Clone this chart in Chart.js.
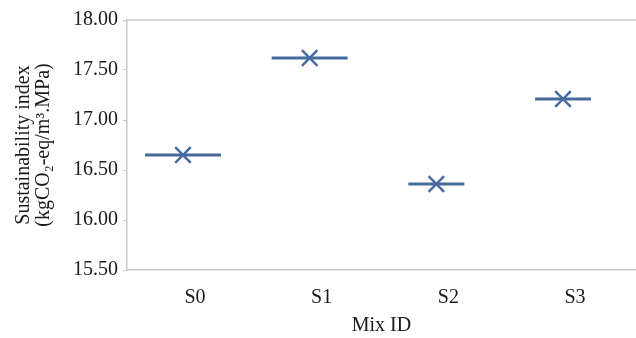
<!DOCTYPE html>
<html>
<head>
<meta charset="utf-8">
<script src="https://cdn.jsdelivr.net/npm/chart.js@4/dist/chart.umd.min.js"></script>
<style>
  html, body { margin: 0; padding: 0; background: #fff; }
  #wrap { width: 636px; height: 338px; }
</style>
</head>
<body>
<div id="wrap"><canvas id="c" width="636" height="338"></canvas></div>
<script>
// Sustainability index per mix
const categories = ['S0', 'S1', 'S2', 'S3'];
const sustainabilityIndex = [16.65, 17.62, 16.36, 17.21];
const yTicks = [15.5, 16.0, 16.5, 17.0, 17.5, 18.0];

const markColor = '#46699e';
const axisColor = '#c9c9c9';
const serif = '"Liberation Serif", "Times New Roman", serif';

const points = sustainabilityIndex.map((v, i) => ({ x: i, y: v }));

// light frame line along the top of the plotting area
const topFrame = {
  id: 'topFrame',
  beforeDatasetsDraw(chart) {
    const { ctx, chartArea } = chart;
    ctx.save();
    ctx.strokeStyle = axisColor;
    ctx.lineWidth = 1.5;
    ctx.beginPath();
    ctx.moveTo(chartArea.left, chartArea.top);
    ctx.lineTo(chartArea.right, chartArea.top);
    ctx.stroke();
    ctx.restore();
  }
};

new Chart(document.getElementById('c'), {
  type: 'scatter',
  data: {
    datasets: [
      {
        label: 'range',
        data: points,
        pointStyle: 'line',
        pointRadius: [38, 38, 28, 28],
        pointBorderWidth: 2.8,
        pointBorderColor: markColor,
        pointBackgroundColor: markColor,
        pointHoverRadius: [38, 38, 28, 28],
        showLine: false
      },
      {
        label: 'mean',
        data: points,
        pointStyle: 'crossRot',
        pointRadius: 11,
        pointBorderWidth: 2.4,
        pointBorderColor: markColor,
        pointHoverRadius: 11,
        showLine: false
      }
    ]
  },
  options: {
    responsive: false,
    animation: false,
    events: [],
    layout: { autoPadding: false, padding: { left: 0, right: 0, top: 20, bottom: 0 } },
    plugins: {
      legend: { display: false },
      tooltip: { enabled: false }
    },
    scales: {
      x: {
        type: 'linear',
        min: -0.442,
        max: 3.576,
        afterBuildTicks(scale) {
          scale.ticks = categories.map((_, i) => ({ value: i }));
        },
        afterFit(scale) {
          scale.height = 68;
          scale.paddingLeft = 0;
          scale.paddingRight = 0;
        },
        grid: { display: false, drawTicks: false },
        border: { display: true, color: axisColor, width: 1.5 },
        ticks: {
          autoSkip: false,
          maxRotation: 0,
          padding: 16,
          labelOffset: 12,
          color: '#1a1a1a',
          font: { family: serif, size: 20 },
          callback: (v) => categories[v]
        },
        title: {
          display: true,
          text: 'Mix ID',
          color: '#1a1a1a',
          font: { family: serif, size: 20 },
          padding: { top: 6, bottom: 0 }
        }
      },
      y: {
        min: 15.5,
        max: 18,
        afterBuildTicks(scale) {
          scale.ticks = yTicks.map(v => ({ value: v }));
        },
        afterFit(scale) {
          scale.width = 127;
          scale.paddingTop = 0;
          scale.paddingBottom = 0;
        },
        grid: { drawOnChartArea: false, drawTicks: true, tickLength: 4, color: axisColor, tickColor: axisColor },
        border: { display: true, color: axisColor, width: 1.5 },
        ticks: {
          padding: 5,
          color: '#1a1a1a',
          font: { family: serif, size: 20 },
          callback: (v) => Number(v).toFixed(2)
        },
        title: {
          display: true,
          text: ['Sustainability index', '(kgCO\u2082-eq/m\u00b3.MPa)'],
          color: '#1a1a1a',
          font: { family: serif, size: 20, lineHeight: 1.0 },
          padding: { top: 14, bottom: 0 }
        }
      }
    }
  },
  plugins: [topFrame]
});
</script>
</body>
</html>
